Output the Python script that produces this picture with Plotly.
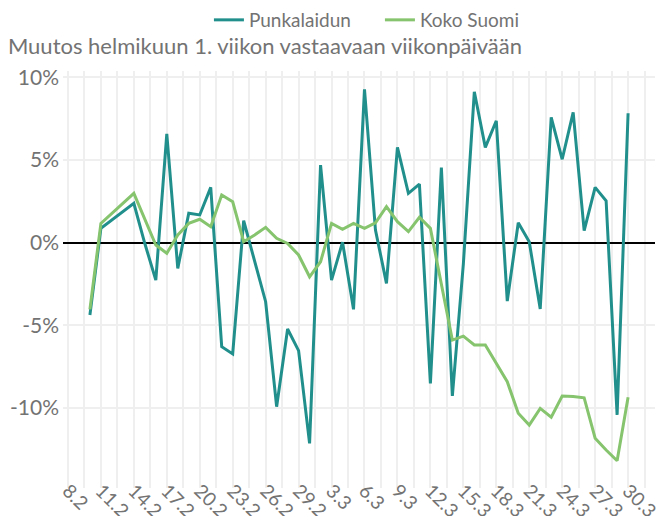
import plotly.graph_objects as go
from datetime import datetime, timedelta

# Days since 8.2.2020 for each observation
start = datetime(2020, 2, 8)
days = [2, 3, 6, 7, 8, 9, 10, 11, 12, 13, 14, 15, 16, 17, 18, 19, 20, 21, 22, 23, 24, 25,
        26, 27, 28, 29, 30, 31, 32, 33, 34, 35, 36, 37, 38, 39, 40, 41, 42, 43, 44, 45,
        46, 47, 48, 49, 50, 51]
dates = [(start + timedelta(days=d)).strftime("%Y-%m-%d") for d in days]

punkalaidun = [-4.37, 0.87, 2.38, -0.05, -2.26, 6.58, -1.55, 1.78, 1.68, 3.35, -6.29, -6.73,
               1.33, -1.1, -3.57, -9.92, -5.22, -6.53, -12.14, 4.70, -2.26, 0.03,
               -4.03, 9.28, 0.77, -2.46, 5.77, 2.99, 3.55, -8.51, 4.54, -9.27, -1.3, 9.13,
               5.77, 7.38, -3.53, 1.21, 0.06, -4.01, 7.59, 5.05,
               7.89, 0.73, 3.35, 2.54, -10.42, 7.83]
koko_suomi = [-4.03, 1.17, 2.99, 1.4, -0.14, -0.64, 0.47, 1.17, 1.42, 0.97, 2.89, 2.48,
              0.06, 0.47, 0.93, 0.27, -0.04, -0.74, -2.06, -1.15, 1.17, 0.81,
              1.17, 0.87, 1.21, 2.18, 1.27, 0.67, 1.54, 0.87, -2.6, -5.89, -5.65, -6.19,
              -6.19, -7.3, -8.41, -10.32, -11.03, -10.02, -10.56, -9.27,
              -9.3, -9.38, -11.83, -12.54, -13.19, -9.35]

tick_days = [0, 3, 6, 9, 12, 15, 18, 21, 24, 27, 30, 33, 36, 39, 42, 45, 48, 51]
tick_labels = ["8.2", "11.2", "14.2", "17.2", "20.2", "23.2", "26.2", "29.2", "3.3", "6.3",
               "9.3", "12.3", "15.3", "18.3", "21.3", "24.3", "27.3", "30.3"]
y_vals = [-10, -5, 0, 5, 10]
y_labels = ["-10%", "-5%", "0%", "5%", "10%"]

FONT = "Lato"
GREY = "#737373"


def dstr(d):
    return (start + timedelta(days=d)).strftime("%Y-%m-%d %H:%M:%S")


fig = go.Figure()
fig.add_trace(go.Scatter(x=dates, y=punkalaidun, mode="lines", name="Punkalaidun",
                         line=dict(color="#21908C", width=3)))
fig.add_trace(go.Scatter(x=dates, y=koko_suomi, mode="lines", name="Koko Suomi",
                         line=dict(color="#86C46D", width=3)))

fig.update_layout(
    width=657, height=516,
    margin=dict(l=63, r=2, t=71, b=28),
    paper_bgcolor="white", plot_bgcolor="white",
    font=dict(family=FONT, color=GREY, size=17),
    showlegend=True,
    legend=dict(orientation="h", xref="container", yref="container",
                x=0.318, y=1 - 20 / 516, xanchor="left", yanchor="middle",
                font=dict(size=19, color=GREY), itemwidth=30, tracegroupgap=0,
                entrywidth=126, bgcolor="rgba(0,0,0,0)"),
    title=dict(text="Muutos helmikuun 1. viikon vastaavaan viikonpäivään",
               xref="container", yref="container", x=0.012, y=1 - 46 / 516,
               xanchor="left", yanchor="middle", font=dict(size=22, color=GREY)),
    xaxis=dict(type="date", range=[dstr(-0.45), dstr(53.45)],
               tickvals=[dstr(v) for v in tick_days], ticktext=tick_labels,
               tickangle=45, showgrid=True, gridcolor="#efefef", gridwidth=1.5,
               minor=dict(tickvals=[dstr(v + 1.5) for v in tick_days],
                          showgrid=True, gridcolor="#efefef", gridwidth=1.5),
               zeroline=False, showline=False, ticks="", automargin=False,
               ticklabelstandoff=-13, ticklabeloverflow="allow",
               tickfont=dict(size=19, color=GREY)),
    yaxis=dict(range=[-14.84, 10.39], tickvals=y_vals, ticktext=y_labels,
               showgrid=True, gridcolor="#efefef", gridwidth=1.5,
               zeroline=True, zerolinecolor="#000000", zerolinewidth=1.5,
               showline=False, ticks="", automargin=False, ticklabelstandoff=3,
               tickfont=dict(size=21, color=GREY)),
)

fig.write_html("out.html", config={"displayModeBar": False},
               post_script="document.body.style.margin='0';document.body.style.overflow='hidden';")
